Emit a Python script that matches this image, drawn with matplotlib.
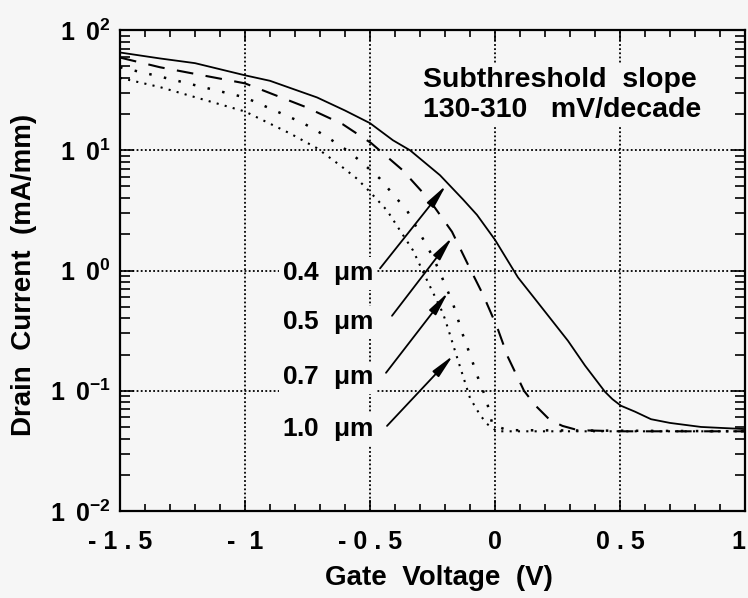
import numpy as np
import matplotlib.pyplot as plt
from matplotlib.ticker import MultipleLocator, LogLocator, NullFormatter

plt.rcParams['font.family'] = ['Liberation Sans', 'DejaVu Sans']
plt.rcParams['font.weight'] = 'bold'
plt.rcParams['mathtext.fontset'] = 'custom'
plt.rcParams['mathtext.rm'] = 'Liberation Sans'
plt.rcParams['mathtext.bf'] = 'Liberation Sans:bold'
plt.rcParams['mathtext.it'] = 'Liberation Sans:italic'

# gate voltage (V) and drain current (mA/mm)
v_04 = [-1.5, -1.34, -1.2, -1.0, -0.9, -0.82, -0.712, -0.6, -0.5, -0.408, -0.34, -0.22,
        -0.128, -0.072, 0.0, 0.092, 0.16, 0.292, 0.36, 0.4, 0.44, 0.47, 0.504, 0.56,
        0.624, 0.7, 0.824, 1.0]
i_04 = [65, 58, 53, 42, 37.8, 33, 27.5, 21.4, 16.8, 12.1, 10, 6.2,
        3.9, 2.9, 1.8, 0.875, 0.58, 0.26, 0.162, 0.126, 0.098, 0.085, 0.075, 0.067,
        0.058, 0.054, 0.050, 0.048]

v_05 = [-1.5, -1.34, -1.0, -0.76, -0.61, -0.496, -0.372, -0.264, -0.172, -0.108,
        -0.048, 0.008, 0.052, 0.116, 0.16, 0.22, 0.27, 0.332, 0.5, 1.0]
i_05 = [59, 49, 36, 23, 16.5, 11.5, 6.9, 3.9, 2.1, 1.12,
        0.63, 0.34, 0.19, 0.10, 0.076, 0.057, 0.051, 0.047, 0.046, 0.046]

v_07 = [-1.5, -1.34, -1.0, -0.772, -0.712, -0.652, -0.58, -0.52, -0.46, -0.412, -0.352,
        -0.28, -0.248, -0.22, -0.168, -0.128, -0.1, -0.06, -0.036, -0.01, 0.05, 1.0]
i_07 = [49, 41, 27.5, 17, 14.5, 12.1, 9.6, 7.5, 5.8, 4.4, 3.16,
        1.71, 1.29, 0.96, 0.53, 0.29, 0.2, 0.115, 0.087, 0.052, 0.047, 0.046]

v_10 = [-1.5, -1.34, -1.0, -0.82, -0.712, -0.62, -0.552, -0.5, -0.432, -0.372, -0.328,
        -0.272, -0.232, -0.208, -0.188, -0.152, -0.1, -0.06, -0.032, -0.01, 0.008, 1.0]
i_10 = [40, 33.5, 21, 13.8, 10.4, 7.5, 5.8, 4.5, 3.16, 2.03, 1.47,
        0.83, 0.56, 0.44, 0.33, 0.19, 0.087, 0.063, 0.053, 0.049, 0.046, 0.046]

gate_lengths = ['0.4', '0.5', '0.7', '1.0']
x_ticks = [-1.5, -1.0, -0.5, 0.0, 0.5, 1.0]
x_tick_labels = ['- 1 . 5', '-  1', '- 0 . 5', '0', '0 . 5', '1']
y_exponents = [-2, -1, 0, 1, 2]

bg = '#f6f6f6'
fig = plt.figure(figsize=(7.48, 5.98), dpi=100, facecolor=bg)
ax = fig.add_axes([120/748, 87/598, 625/748, 481/598], facecolor=bg)

ax.plot(v_04, i_04, color='k', lw=1.3, zorder=3)
ax.plot(v_05, i_05, color='k', lw=1.5, dashes=[8, 6], zorder=3)
ax.plot(v_07, i_07, color='k', lw=1.8, dashes=[1, 5], zorder=3)
ax.plot(v_10, i_10, color='k', lw=1.5, dashes=[1, 3], zorder=3)

ax.set_yscale('log')
ax.set_xlim(-1.5, 1.0)
ax.set_ylim(1e-2, 1e2)

ax.set_xticks(x_ticks)
ax.set_xticklabels(x_tick_labels, fontsize=18, fontweight='bold')
ax.get_xticklabels()[-1].set_ha('right')
ax.xaxis.set_minor_locator(MultipleLocator(0.1))
ax.set_yticks([10.0**e for e in y_exponents])
ax.set_yticklabels([r'$\mathbf{1\ \,0^{%d}}$' % e for e in y_exponents], fontsize=18)
ax.yaxis.set_minor_locator(LogLocator(base=10, subs=np.arange(2, 10)))
ax.yaxis.set_minor_formatter(NullFormatter())

ax.tick_params(which='both', direction='in', top=True, right=True, color='k', width=1.2)
ax.tick_params(axis='x', which='major', length=8, pad=14)
ax.tick_params(axis='x', which='minor', length=5)
ax.tick_params(axis='y', which='major', length=10, pad=7)
ax.tick_params(axis='y', which='minor', length=7)
for s in ax.spines.values():
    s.set_linewidth(1.6)

ax.grid(which='major', color='k', lw=1.3, dashes=(1, 1.3))

ax.set_xlabel('Gate  Voltage  (V)', fontsize=20, fontweight='bold')
ax.xaxis.set_label_coords(0.51, -0.112)
ax.set_ylabel('Drain  Current  (mA/mm)', fontsize=20, fontweight='bold')
ax.yaxis.set_label_coords(-0.133, 0.49)

box = dict(boxstyle='square,pad=0.1', fc=bg, ec='none')
ax.text(-0.288, 29.0, 'Subthreshold  slope\n130-310   mV/decade', fontsize=20.5,
        fontweight='bold', ha='left', va='center', linespacing=1.2, bbox=box, zorder=4)

label_pos = [0.944, 0.369, 0.128, 0.048]
tips = [(-0.196, 5.1), (-0.172, 1.88), (-0.188, 0.656), (-0.168, 0.196)]
starts = [(-0.46, 1.04), (-0.412, 0.42), (-0.436, 0.141), (-0.432, 0.051)]
for g, yp, tip, st in zip(gate_lengths, label_pos, tips, starts):
    ax.text(-0.488, yp, g + r'  $\mathrm{\mu m}$', fontsize=19, fontweight='bold',
            ha='right', va='center', bbox=box, zorder=4)
    ax.annotate('', xy=tip, xytext=st,
                arrowprops=dict(arrowstyle='-|>,head_length=0.95,head_width=0.17',
                                lw=1.3, color='k', mutation_scale=15,
                                shrinkA=0, shrinkB=0), zorder=5)

fig.savefig('out.png', dpi=100, facecolor=bg)
